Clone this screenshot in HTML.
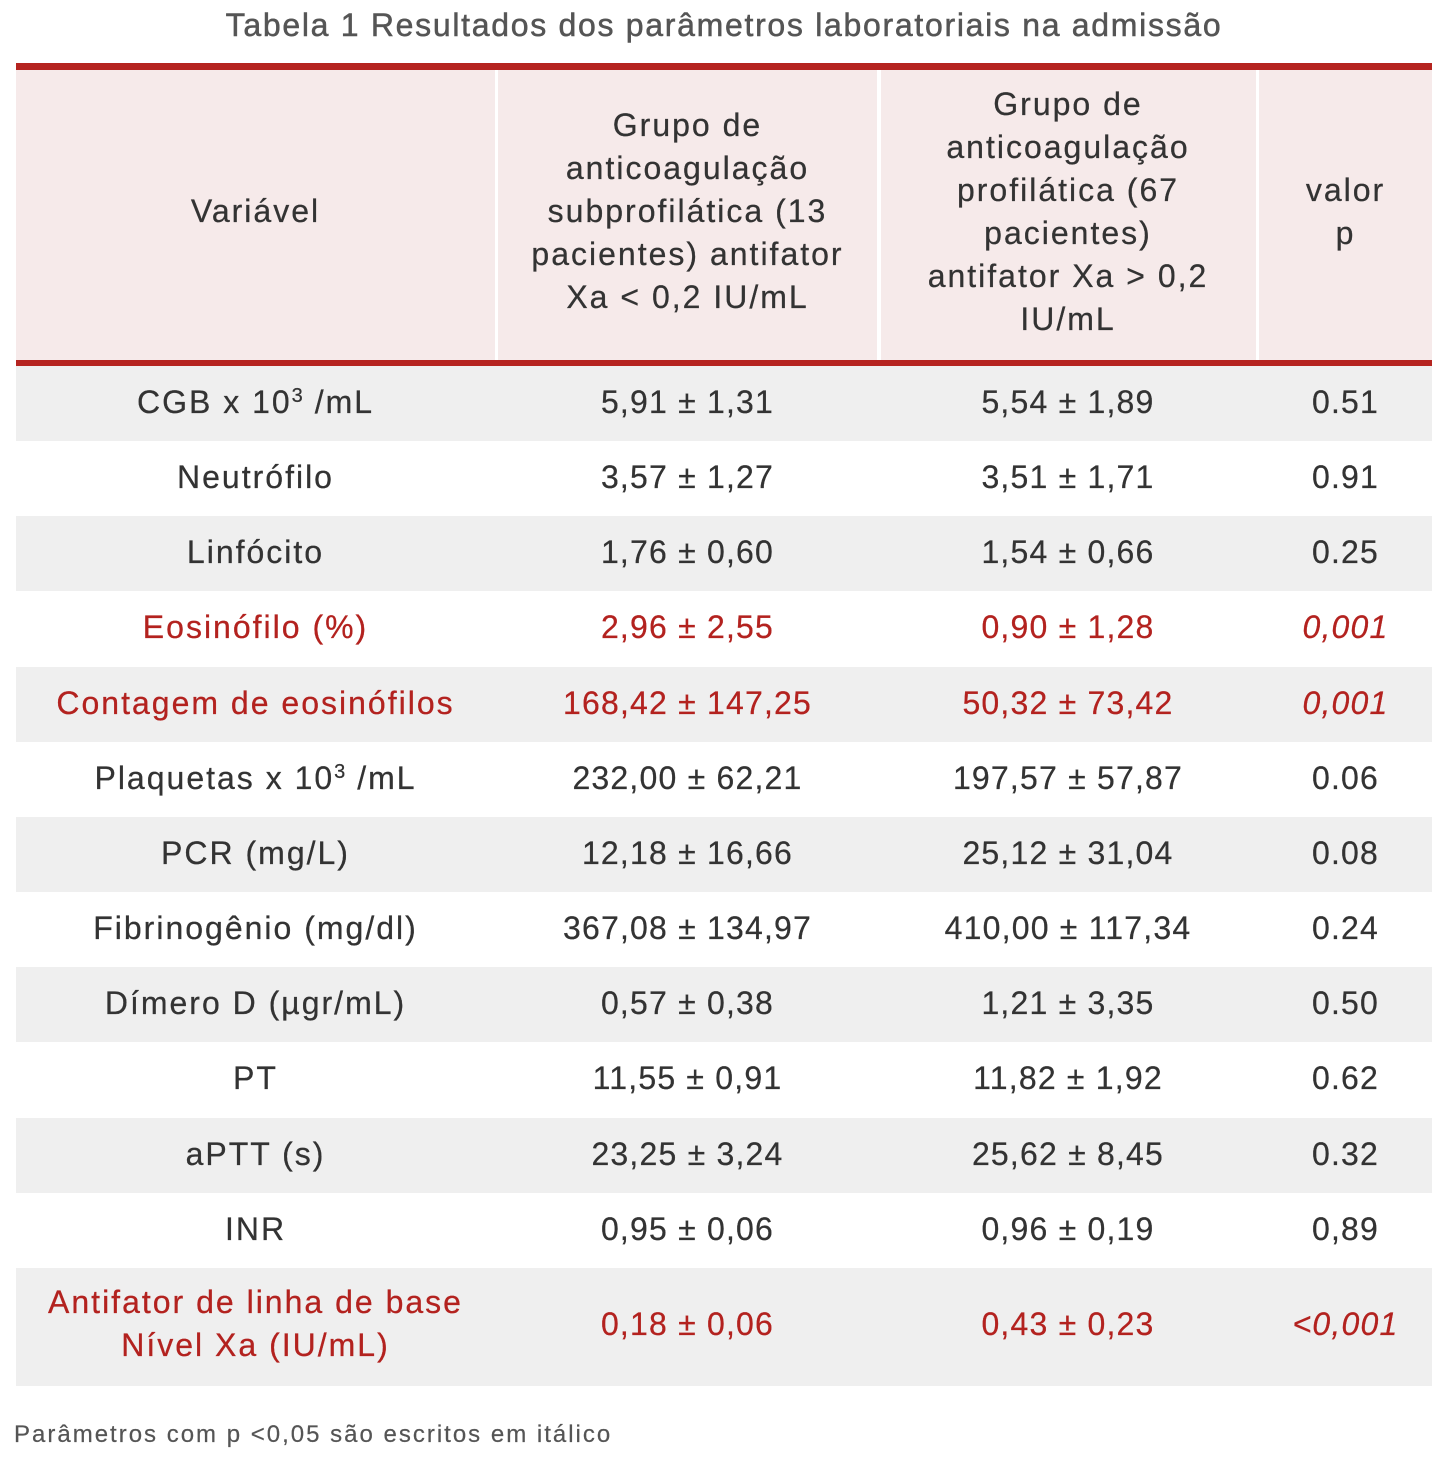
<!DOCTYPE html>
<html>
<head>
<meta charset="utf-8">
<style>
  html, body { margin:0; padding:0; }
  body { width:1448px; height:1462px; background:#ffffff; position:relative; overflow:hidden;
         font-family:"Liberation Sans", "DejaVu Sans", sans-serif; color:#333333; }
  .abs { position:absolute; }
  .c { position:absolute; text-align:center; white-space:nowrap; font-size:32px; -webkit-text-stroke:0.25px currentColor; }
  .t1 { letter-spacing:2px; }
  .tn { letter-spacing:1.2px; }
  .red { color:#b3221f; }
  .it { font-style:italic; }
  .gray { background:#efefef; }
  .hd { line-height:43px; letter-spacing:2px; }
  .sup { position:relative; top:-11px; font-size:20px; letter-spacing:0; margin-right:1px; }
</style>
</head>
<body>

<!-- Title -->
<div class="c" style="left:0; top:0; width:1448px; height:50px; line-height:50px; color:#555555; letter-spacing:1.7px; -webkit-text-stroke:0.5px #555555;">Tabela 1 Resultados dos parâmetros laboratoriais na admissão</div>

<!-- Header -->
<div class="abs" style="left:16px; top:63px; width:1416px; height:7px; background:#b52420;"></div>
<div class="abs" style="left:16px; top:70px; width:1416px; height:290px; background:#f6eaea;"></div>
<div class="abs" style="left:495px; top:70px; width:3px; height:290px; background:#ffffff;"></div>
<div class="abs" style="left:877px; top:70px; width:3.5px; height:290px; background:#ffffff;"></div>
<div class="abs" style="left:1256px; top:70px; width:3px; height:290px; background:#ffffff;"></div>
<div class="abs" style="left:16px; top:360px; width:1416px; height:6px; background:#b52420;"></div>

<div class="c hd" style="left:16px; width:479px; top:189.5px;">Variável</div>
<div class="c hd" style="left:498px; width:379px; top:103.5px;">Grupo de<br>anticoagulação<br>subprofilática (13<br>pacientes) antifator<br>Xa &lt; 0,2 IU/mL</div>
<div class="c hd" style="left:880px; width:376px; top:82.5px;">Grupo de<br>anticoagulação<br>profilática (67<br>pacientes)<br>antifator Xa &gt; 0,2<br>IU/mL</div>
<div class="c hd" style="left:1259px; width:173px; top:168.5px;">valor<br>p</div>

<!-- Row backgrounds -->
<div class="abs gray" style="left:16px; top:366px; width:1416px; height:75px;"></div>
<div class="abs gray" style="left:16px; top:516px; width:1416px; height:75px;"></div>
<div class="abs gray" style="left:16px; top:667px; width:1416px; height:75px;"></div>
<div class="abs gray" style="left:16px; top:817px; width:1416px; height:75px;"></div>
<div class="abs gray" style="left:16px; top:967px; width:1416px; height:75px;"></div>
<div class="abs gray" style="left:16px; top:1118px; width:1416px; height:75px;"></div>
<div class="abs gray" style="left:16px; top:1268px; width:1416px; height:118px;"></div>

<!-- Row 1 -->
<div class="c t1" style="left:16px; width:479px; top:365px; line-height:75px;">CGB x 10<span class="sup">3</span> /mL</div>
<div class="c tn" style="left:498px; width:379px; top:365px; line-height:75px;">5,91 ± 1,31</div>
<div class="c tn" style="left:880px; width:376px; top:365px; line-height:75px;">5,54 ± 1,89</div>
<div class="c tn" style="left:1259px; width:173px; top:365px; line-height:75px;">0.51</div>

<!-- Row 2 -->
<div class="c t1" style="left:16px; width:479px; top:440px; line-height:75px;">Neutrófilo</div>
<div class="c tn" style="left:498px; width:379px; top:440px; line-height:75px;">3,57 ± 1,27</div>
<div class="c tn" style="left:880px; width:376px; top:440px; line-height:75px;">3,51 ± 1,71</div>
<div class="c tn" style="left:1259px; width:173px; top:440px; line-height:75px;">0.91</div>

<!-- Row 3 -->
<div class="c t1" style="left:16px; width:479px; top:515px; line-height:75px;">Linfócito</div>
<div class="c tn" style="left:498px; width:379px; top:515px; line-height:75px;">1,76 ± 0,60</div>
<div class="c tn" style="left:880px; width:376px; top:515px; line-height:75px;">1,54 ± 0,66</div>
<div class="c tn" style="left:1259px; width:173px; top:515px; line-height:75px;">0.25</div>

<!-- Row 4 -->
<div class="c t1 red" style="left:16px; width:479px; top:590px; line-height:75px;">Eosinófilo (%)</div>
<div class="c tn red" style="left:498px; width:379px; top:590px; line-height:75px;">2,96 ± 2,55</div>
<div class="c tn red" style="left:880px; width:376px; top:590px; line-height:75px;">0,90 ± 1,28</div>
<div class="c tn red it" style="left:1259px; width:173px; top:590px; line-height:75px;">0,001</div>

<!-- Row 5 -->
<div class="c t1 red" style="left:16px; width:479px; top:666px; line-height:75px;">Contagem de eosinófilos</div>
<div class="c tn red" style="left:498px; width:379px; top:666px; line-height:75px;">168,42 ± 147,25</div>
<div class="c tn red" style="left:880px; width:376px; top:666px; line-height:75px;">50,32 ± 73,42</div>
<div class="c tn red it" style="left:1259px; width:173px; top:666px; line-height:75px;">0,001</div>

<!-- Row 6 -->
<div class="c t1" style="left:16px; width:479px; top:741px; line-height:75px;">Plaquetas x 10<span class="sup">3</span> /mL</div>
<div class="c tn" style="left:498px; width:379px; top:741px; line-height:75px;">232,00 ± 62,21</div>
<div class="c tn" style="left:880px; width:376px; top:741px; line-height:75px;">197,57 ± 57,87</div>
<div class="c tn" style="left:1259px; width:173px; top:741px; line-height:75px;">0.06</div>

<!-- Row 7 -->
<div class="c t1" style="left:16px; width:479px; top:816px; line-height:75px;">PCR (mg/L)</div>
<div class="c tn" style="left:498px; width:379px; top:816px; line-height:75px;">12,18 ± 16,66</div>
<div class="c tn" style="left:880px; width:376px; top:816px; line-height:75px;">25,12 ± 31,04</div>
<div class="c tn" style="left:1259px; width:173px; top:816px; line-height:75px;">0.08</div>

<!-- Row 8 -->
<div class="c t1" style="left:16px; width:479px; top:891px; line-height:75px;">Fibrinogênio (mg/dl)</div>
<div class="c tn" style="left:498px; width:379px; top:891px; line-height:75px;">367,08 ± 134,97</div>
<div class="c tn" style="left:880px; width:376px; top:891px; line-height:75px;">410,00 ± 117,34</div>
<div class="c tn" style="left:1259px; width:173px; top:891px; line-height:75px;">0.24</div>

<!-- Row 9 -->
<div class="c t1" style="left:16px; width:479px; top:966px; line-height:75px;">Dímero D (µgr/mL)</div>
<div class="c tn" style="left:498px; width:379px; top:966px; line-height:75px;">0,57 ± 0,38</div>
<div class="c tn" style="left:880px; width:376px; top:966px; line-height:75px;">1,21 ± 3,35</div>
<div class="c tn" style="left:1259px; width:173px; top:966px; line-height:75px;">0.50</div>

<!-- Row 10 -->
<div class="c t1" style="left:16px; width:479px; top:1041px; line-height:75px;">PT</div>
<div class="c tn" style="left:498px; width:379px; top:1041px; line-height:75px;">11,55 ± 0,91</div>
<div class="c tn" style="left:880px; width:376px; top:1041px; line-height:75px;">11,82 ± 1,92</div>
<div class="c tn" style="left:1259px; width:173px; top:1041px; line-height:75px;">0.62</div>

<!-- Row 11 -->
<div class="c t1" style="left:16px; width:479px; top:1117px; line-height:75px;">aPTT (s)</div>
<div class="c tn" style="left:498px; width:379px; top:1117px; line-height:75px;">23,25 ± 3,24</div>
<div class="c tn" style="left:880px; width:376px; top:1117px; line-height:75px;">25,62 ± 8,45</div>
<div class="c tn" style="left:1259px; width:173px; top:1117px; line-height:75px;">0.32</div>

<!-- Row 12 -->
<div class="c t1" style="left:16px; width:479px; top:1192px; line-height:75px;">INR</div>
<div class="c tn" style="left:498px; width:379px; top:1192px; line-height:75px;">0,95 ± 0,06</div>
<div class="c tn" style="left:880px; width:376px; top:1192px; line-height:75px;">0,96 ± 0,19</div>
<div class="c tn" style="left:1259px; width:173px; top:1192px; line-height:75px;">0,89</div>

<!-- Row 13 -->
<div class="c t1 red" style="left:16px; width:479px; top:1280.5px; line-height:43px;">Antifator de linha de base<br>Nível Xa (IU/mL)</div>
<div class="c tn red" style="left:498px; width:379px; top:1287px; line-height:75px;">0,18 ± 0,06</div>
<div class="c tn red" style="left:880px; width:376px; top:1287px; line-height:75px;">0,43 ± 0,23</div>
<div class="c tn red it" style="left:1259px; width:173px; top:1287px; line-height:75px;">&lt;0,001</div>

<!-- Footnote -->
<div class="abs" style="left:14px; top:1417px; height:36px; line-height:36px; font-size:24px; letter-spacing:2px; color:#555555; white-space:nowrap; -webkit-text-stroke:0.2px #555555;">Parâmetros com p &lt;0,05 são escritos em itálico</div>

</body>
</html>
